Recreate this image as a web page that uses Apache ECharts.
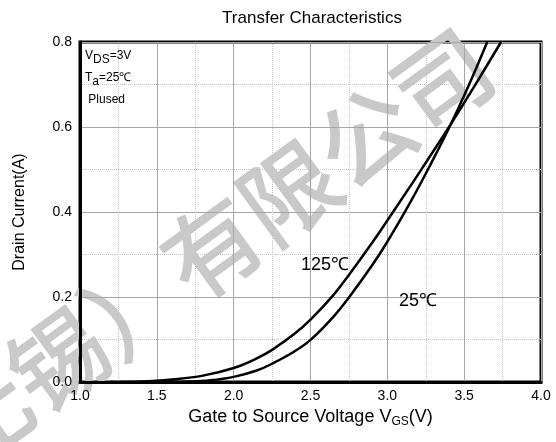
<!DOCTYPE html>
<html>
<head>
<meta charset="utf-8">
<script src="https://cdn.jsdelivr.net/npm/echarts@6/dist/echarts.min.js"></script>
<style>
  html, body { margin: 0; padding: 0; background: #fff; }
  #chart { width: 556px; height: 442px; }
</style>
</head>
<body>
<div id="chart"></div>
<script>
// values
const xTicks = [1.0, 1.5, 2.0, 2.5, 3.0, 3.5, 4.0]
const yTicks = [0.0, 0.2, 0.4, 0.6, 0.8]

const vgs125 = [1.2, 1.4, 1.6, 1.8, 2.0, 2.15, 2.25, 2.4, 2.5, 2.65, 2.75, 2.9, 3.0, 3.15, 3.27, 3.41, 3.58, 3.74]
const id125 = [0, 0.001, 0.006, 0.015, 0.033, 0.0555, 0.0755, 0.1145, 0.1465, 0.205, 0.252, 0.327, 0.38, 0.461, 0.527, 0.605, 0.704, 0.8]

const vgs25 = [1.5, 1.7, 1.85, 2.0, 2.15, 2.25, 2.4, 2.5, 2.65, 2.75, 2.9, 3.0, 3.15, 3.3, 3.41, 3.53, 3.65]
const id25 = [0, 0.001, 0.004, 0.012, 0.027, 0.043, 0.073, 0.099, 0.154, 0.199, 0.274, 0.33, 0.423, 0.525, 0.604, 0.698, 0.8]

const label125 = [2.594, 0.276]
const label25 = [3.199, 0.191]

const FONT = 'Liberation Sans, Arial, sans-serif'

function pairs(xs, ys) {
  return xs.map((x, i) => [x, ys[i]])
}

function curveLabel(text, coord) {
  return {
    symbol: 'rect',
    symbolSize: 1,
    itemStyle: { color: 'transparent' },
    label: {
      show: true,
      position: 'inside',
      formatter: text,
      color: '#000',
      fontSize: 18,
      fontFamily: FONT
    },
    data: [{ coord: coord }]
  }
}

const chart = echarts.init(document.getElementById('chart'), null, { renderer: 'canvas' })

const option = {
  backgroundColor: '#fff',
  animation: false,
  title: {
    text: 'Transfer Characteristics',
    left: 307,
    textAlign: 'center',
    top: 5,
    textStyle: { fontSize: 17, fontWeight: 'normal', color: '#000', fontFamily: FONT }
  },
  grid: {
    show: true,
    left: 80,
    right: 15,
    top: 42,
    bottom: 60,
    borderColor: '#000',
    borderWidth: 3,
    backgroundColor: 'transparent'
  },
  graphic: [
    {
      type: 'text',
      x: 212,
      y: 248,
      rotation: 36 * Math.PI / 180,
      z: 0,
      silent: true,
      style: {
        text: '无锡）有限公司',
        font: '95px "Noto Sans CJK SC"',
        fill: '#c9c9c9',
        stroke: '#c9c9c9',
        lineWidth: 2,
        textAlign: 'center',
        textVerticalAlign: 'middle'
      }
    },
    {
      type: 'text',
      left: 85,
      top: 45,
      z: 10,
      style: {
        text: 'V{s|DS}=3V\nT{s|a}=25℃\n {p|Plused}',
        fill: '#000',
        font: '12px ' + FONT,
        lineHeight: 22,
        rich: {
          s: { fontSize: 12, fontFamily: FONT, padding: [8, 0, 0, 0], lineHeight: 22 },
          p: { fontSize: 12, fontFamily: FONT, lineHeight: 22 }
        }
      }
    }
  ],
  xAxis: {
    type: 'value',
    min: xTicks[0],
    max: xTicks[xTicks.length - 1],
    interval: 0.5,
    name: 'Gate to Source Voltage V{s|GS}(V)',
    nameLocation: 'middle',
    nameGap: 23,
    nameTextStyle: {
      fontSize: 18,
      color: '#000',
      fontFamily: FONT,
      rich: { s: { fontSize: 12, fontFamily: FONT, padding: [10, 0, 0, 0] } }
    },
    axisLine: { show: true, lineStyle: { color: '#000', width: 3 } },
    axisTick: { show: false },
    axisLabel: {
      color: '#000',
      fontSize: 14,
      fontFamily: FONT,
      margin: 7,
      formatter: v => v.toFixed(1)
    },
    splitLine: { show: true, lineStyle: { color: '#a6a6a6', width: 1 } },
    minorTick: { show: false, splitNumber: 2 },
    minorSplitLine: { show: true, lineStyle: { color: '#c4c4c4', type: 'dotted', width: 1 } }
  },
  yAxis: {
    type: 'value',
    min: yTicks[0],
    max: yTicks[yTicks.length - 1],
    interval: 0.2,
    name: 'Drain Current(A)',
    nameLocation: 'middle',
    nameGap: 52,
    nameTextStyle: { fontSize: 16, color: '#000', fontFamily: FONT },
    axisLine: { show: true, lineStyle: { color: '#000', width: 3 } },
    axisTick: { show: false },
    axisLabel: {
      color: '#000',
      fontSize: 14,
      fontFamily: FONT,
      margin: 8,
      formatter: v => v.toFixed(1)
    },
    splitLine: { show: true, lineStyle: { color: '#a6a6a6', width: 1 } },
    minorTick: { show: false, splitNumber: 2 },
    minorSplitLine: { show: true, lineStyle: { color: '#c4c4c4', type: 'dotted', width: 1 } }
  },
  series: [
    {
      name: '125℃',
      type: 'line',
      data: pairs(vgs125, id125),
      smooth: 0.4,
      symbol: 'none',
      clip: true,
      z: 5,
      lineStyle: { color: '#000', width: 2.5 },
      markPoint: curveLabel('125℃', label125)
    },
    {
      name: '25℃',
      type: 'line',
      data: pairs(vgs25, id25),
      smooth: 0.4,
      symbol: 'none',
      clip: true,
      z: 5,
      lineStyle: { color: '#000', width: 2.5 },
      markPoint: curveLabel('25℃', label25)
    }
  ]
}

chart.setOption(option)
</script>
</body>
</html>
